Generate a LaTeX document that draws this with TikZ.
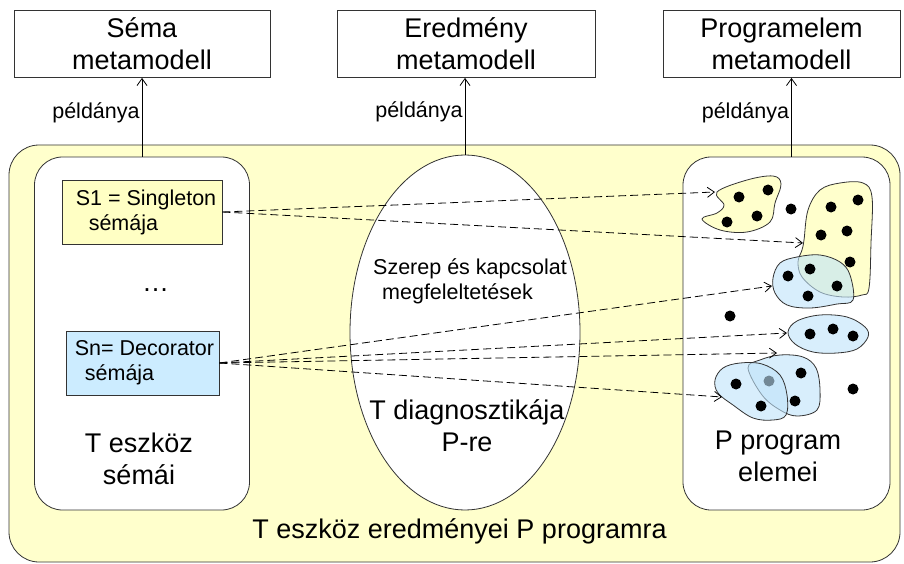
\documentclass[tikz,border=0pt]{standalone}
\usepackage{fontspec}
\setmainfont{Liberation Sans}
\usetikzlibrary{positioning, shapes.geometric, arrows.meta}

\definecolor{hatter}{HTML}{FFFFCC}
\definecolor{sarga}{HTML}{FFFFC4}
\definecolor{kek}{HTML}{CCECFF}
\definecolor{foltkek}{HTML}{BFE3FA}

\newcommand{\nagybetu}{\fontsize{27}{32}\selectfont}
\newcommand{\kisbetu}{\fontsize{21.5}{25}\selectfont}

\begin{document}
\begin{tikzpicture}[x=1pt, y=-1pt, >={Straight Barb[length=7pt,width=10pt]}, line width=0.8pt,
	metabox/.style={draw=black!80, rectangle, minimum width=256pt, minimum height=67pt, align=center, font=\nagybetu},
	keret/.style={draw=black!80, fill=white, rectangle, rounded corners=28pt, minimum width=215pt, minimum height=353pt},
	semabox/.style={draw=black!80, rectangle, minimum width=160pt, minimum height=64pt, align=left, font=\kisbetu, inner sep=0pt},
	peld/.style={left, font=\kisbetu, inner sep=2pt},
	lek/.style={->, dash pattern=on 8pt off 4pt},
	folt/.style={draw=black!80},
	kekfolt/.style={draw=black!80, fill=foltkek, fill opacity=0.6}
	]
	\useasboundingbox (0,0) rectangle (904,564);

	\node[draw=black!80, fill=hatter, rounded corners=30pt, minimum width=891pt, minimum height=417pt] (eredmenyek) at (454.5,353.5) {};
	\node[keret]                      (semak)  at (142,333.5)   {};
	\node[keret, minimum width=207pt] (elemek) at (786.5,333.5) {};
	\node[draw=black!80, fill=white, ellipse, minimum width=230pt, minimum height=355pt, inner sep=0pt] (diag) at (465,332.5) {};

	% metamodellek
	\node[metabox]                      (semameta) at (142,44)   {Séma\\metamodell};
	\node[metabox, minimum width=258pt] (eredmeta) at (466,44)   {Eredmény\\metamodell};
	\node[metabox, minimum width=237pt] (progmeta) at (781.5,44) {Programelem\\metamodell};

	\draw[->] (semak.north) -- (semameta.south) node[peld, pos=0.56] {példánya};
	\draw[->] (diag.north) -- (diag.north |- eredmeta.south) node[peld, pos=0.56] {példánya};
	\draw[->] ([xshift=5pt]elemek.north) -- ([xshift=5pt]elemek.north |- progmeta.south) node[peld, pos=0.56] {példánya};

	% sémák
	\node[semabox, fill=sarga]                    (s1) at (142,212)   {\hspace*{8pt}S1 = Singleton\\\hspace*{21pt}sémája};
	\node[semabox, fill=kek, minimum width=153pt] (sn) at (142.5,363) {\hspace*{4pt}Sn= Decorator\\\hspace*{14pt}sémája};
	\node[font=\nagybetu] (pontok) at (155.5,290) {…};

	\node[font=\nagybetu, align=center] (semacim)  at (139,459) {T eszköz\\sémái};
	\node[font=\nagybetu, align=center] (diagcim)  at (467,426) {T diagnosztikája\\P-re};
	\node[font=\kisbetu, align=left]    (szerep)   at (470,281) {Szerep és kapcsolat\\\hspace*{9pt}megfeleltetések};
	\node[font=\nagybetu, align=center] (elemcim)  at (778,456) {P program\\elemei};
	\node[font=\nagybetu, anchor=base]  (eredmcim) at (459.5,538) {T eszköz eredményei P programra};

	% programelemek
	\draw[folt, fill=hatter] plot[smooth cycle, tension=0.6] coordinates {(717,192) (747,180) (773,176) (781,184) (775,203) (770,222) (747,232) (720,230) (702,219) (717,213) (724,205)};
	\draw[folt, fill=hatter] plot[smooth cycle, tension=0.6] coordinates {(804,240) (808,210) (820,190) (840,183) (863,183) (872,197) (871,243) (869,288) (862,295) (843,297) (820,292) (802,277) (798,262) (802,250)};
	\foreach \p in {(739,197), (768,190), (727,222), (757,216), (791,209), (831,207), (858,200), (821,235), (847,231), (850,262)}
		\fill \p circle[radius=5.5pt];
	\draw[kekfolt] plot[smooth cycle, tension=0.6] coordinates {(773,278) (780,263) (797,257) (820,255) (840,262) (850,275) (853,300) (837,304) (810,308) (787,305) (775,293)};
	\draw[kekfolt] plot[smooth cycle, tension=0.6] coordinates {(788,332) (797,321) (820,315) (847,317) (865,327) (868,337) (857,349) (837,353) (813,352) (795,344)};
	\draw[kekfolt] plot[smooth cycle, tension=0.6] coordinates {(748,368) (760,360) (780,355) (803,357) (816,368) (820,390) (817,410) (797,416) (780,410) (762,395)};
	\foreach \p in {(788,276), (810,269), (808,296), (837,286), (810,334), (833,329), (853,336), (730,316), (801,373), (795,401), (769,381), (853,389)}
		\fill \p circle[radius=5.5pt];
	\draw[kekfolt] plot[smooth cycle, tension=0.6] coordinates {(715,380) (723,368) (740,363) (762,364) (780,375) (787,395) (786,415) (773,420) (753,418) (733,405) (718,393)};
	\foreach \p in {(736,384), (761,406)}
		\fill \p circle[radius=5.5pt];

	% megfeleltetések
	\coordinate (c1) at (715,192);
	\coordinate (c2) at (803,243);
	\coordinate (c3) at (772,286);
	\coordinate (c4) at (787,333);
	\coordinate (c5) at (777,353);
	\coordinate (c6) at (722,397);
	\draw[lek] (s1.east) -- (c1);
	\draw[lek] (s1.east) -- (c2);
	\draw[lek] (sn.east) -- (c3);
	\draw[lek] (sn.east) -- (c4);
	\draw[lek] (sn.east) -- (c5);
	\draw[lek] (sn.east) -- (c6);
\end{tikzpicture}
\end{document}
